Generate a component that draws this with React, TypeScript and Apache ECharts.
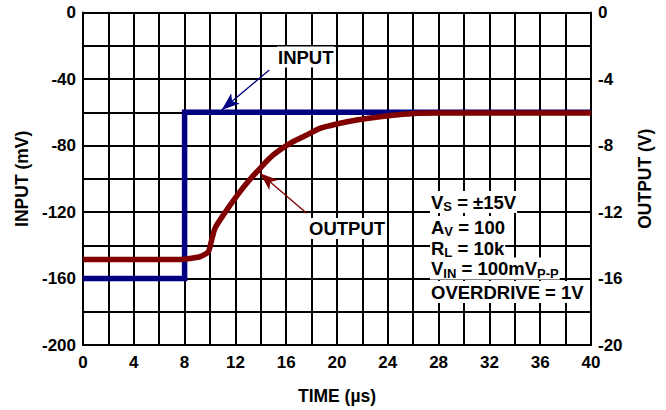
import React, { useEffect, useRef } from "react";
import * as echarts from "echarts";

const timeTicks = [0, 4, 8, 12, 16, 20, 24, 28, 32, 36, 40];
const inputMv: [number, number][] = [
  [0, -160],
  [8, -160],
  [8, -60],
  [40, -60],
];
const outputV: [number, number][] = [
  [0, -14.85],
  [7.6, -14.85],
  [9.2, -14.69],
  [9.87, -14.39],
  [10.13, -13.68],
  [10.39, -12.98],
  [11.05, -12.18],
  [11.97, -11.18],
  [12.89, -10.27],
  [13.94, -9.37],
  [14.98, -8.57],
  [16.3, -7.87],
  [17.35, -7.47],
  [18.66, -6.97],
  [19.98, -6.71],
  [21.55, -6.47],
  [23.39, -6.27],
  [26.28, -6.06],
  [28, -6.05],
  [40, -6.05],
];
const inputArrow: [number, number][] = [
  [14.67, -34.6],
  [10.92, -58.6],
];
const outputArrow: [number, number][] = [
  [17.61, -12.08],
  [13.94, -9.67],
];
const noteLines = [
  ["V", "S", " = ±15V"],
  ["A", "V", " = 100"],
  ["R", "L", " = 10k"],
  ["V", "IN", " = 100mV", "P-P"],
  ["OVERDRIVE = 1V"],
];

const FONT = "'Liberation Sans', Arial, Helvetica, sans-serif";
const NAVY = "#000080";
const MAROON = "#800000";

export default function App() {
  const ref = useRef<HTMLDivElement>(null);
  useEffect(() => {
    if (!ref.current) return;
    const chart = echarts.init(ref.current, null, { renderer: "svg" });
    const labelStyle = {
      fontFamily: FONT,
      fontWeight: "bold" as const,
      fontSize: 17,
      color: "#000",
    };
    const nameStyle = {
      fontFamily: FONT,
      fontWeight: "bold" as const,
      fontSize: 17.5,
      color: "#000",
    };
    const noteYs = [202, 227, 248, 268.5, 292];
    const toRich = (parts: string[]) =>
      parts.map((p, i) => (i % 2 === 1 ? `{s|${p}}` : `{m|${p}}`)).join("");
    const graphics: any[] = noteLines.map((parts, i) => ({
      type: "text",
      x: 430,
      y: noteYs[i],
      z: 100,
      style: {
        text: toRich(parts),
        verticalAlign: "middle",
        align: "left",
        backgroundColor: "#fff",
        padding: [0, 1],
        rich: {
          m: {
            fontFamily: FONT,
            fontWeight: "bold",
            fontSize: 18.5,
            lineHeight: 22,
            fill: "#000",
            verticalAlign: "middle",
          },
          s: {
            fontFamily: FONT,
            fontWeight: "bold",
            fontSize: 13,
            lineHeight: 12,
            fill: "#000",
            verticalAlign: "bottom",
          },
        },
      },
    }));
    graphics.push(
      {
        type: "text",
        x: 277,
        y: 57,
        z: 100,
        style: {
          text: "INPUT",
          fontFamily: FONT,
          fontWeight: "bold",
          fontSize: 18.5,
          fill: "#000",
          verticalAlign: "middle",
          backgroundColor: "#fff",
          padding: [1, 1],
        },
      },
      {
        type: "text",
        x: 308,
        y: 228.5,
        z: 100,
        style: {
          text: "OUTPUT",
          fontFamily: FONT,
          fontWeight: "bold",
          fontSize: 18.5,
          fill: "#000",
          verticalAlign: "middle",
          backgroundColor: "#fff",
          padding: [1, 1],
        },
      }
    );

    chart.setOption({
      animation: false,
      backgroundColor: "#fff",
      grid: { left: 83, right: 75, top: 12.5, bottom: 65 },
      xAxis: {
        type: "value",
        min: 0,
        max: 40,
        interval: 4,
        name: "TIME (µs)",
        nameLocation: "middle",
        nameGap: 42,
        nameTextStyle: nameStyle,
        axisLine: { show: true, onZero: false, lineStyle: { color: "#000", width: 2 } },
        axisTick: { show: false },
        axisLabel: {
          ...labelStyle,
          margin: 9,
          formatter: (v: number) => (timeTicks.includes(v) ? String(v) : ""),
        },
        splitLine: { show: true, lineStyle: { color: "#000", width: 2 } },
        minorTick: { show: false, splitNumber: 2 },
        minorSplitLine: { show: true, lineStyle: { color: "#000", width: 2 } },
      },
      yAxis: [
        {
          type: "value",
          min: -200,
          max: 0,
          interval: 40,
          position: "left",
          name: "INPUT (mV)",
          nameLocation: "middle",
          nameGap: 50,
          nameTextStyle: nameStyle,
          axisLine: { show: true, onZero: false, lineStyle: { color: "#000", width: 2 } },
          axisTick: { show: false },
          axisLabel: { ...labelStyle, margin: 7 },
          splitLine: { show: true, lineStyle: { color: "#000", width: 2 } },
          minorTick: { show: false, splitNumber: 2 },
          minorSplitLine: { show: true, lineStyle: { color: "#000", width: 2 } },
        },
        {
          type: "value",
          min: -20,
          max: 0,
          interval: 4,
          position: "right",
          name: "OUTPUT (V)",
          nameLocation: "middle",
          nameGap: 45,
          nameTextStyle: nameStyle,
          axisLine: { show: true, onZero: false, lineStyle: { color: "#000", width: 2 } },
          axisTick: { show: false },
          axisLabel: { ...labelStyle, margin: 7 },
          splitLine: { show: false },
        },
      ],
      series: [
        {
          name: "INPUT",
          type: "line",
          yAxisIndex: 0,
          data: inputMv,
          symbol: "none",
          clip: false,
          lineStyle: { color: NAVY, width: 5.5, join: "miter", cap: "butt" },
          markLine: {
            silent: true,
            symbol: ["none", "arrow"],
            symbolSize: [10, 18],
            label: { show: false },
            lineStyle: { color: NAVY, width: 1.3, type: "solid" },
            data: [[{ coord: inputArrow[0] }, { coord: inputArrow[1] }]],
          },
        },
        {
          name: "OUTPUT",
          type: "line",
          yAxisIndex: 1,
          data: outputV,
          symbol: "none",
          smooth: 0.2,
          clip: false,
          lineStyle: { color: MAROON, width: 5.5, join: "round" },
          markLine: {
            silent: true,
            symbol: ["none", "arrow"],
            symbolSize: [10, 18],
            label: { show: false },
            lineStyle: { color: MAROON, width: 1.3, type: "solid" },
            data: [[{ coord: outputArrow[0] }, { coord: outputArrow[1] }]],
          },
        },
      ],
      graphic: graphics,
    });
    return () => chart.dispose();
  }, []);
  return (
    <div
      ref={ref}
      style={{ position: "fixed", left: 0, top: 0, width: 666, height: 410, background: "#fff" }}
    />
  );
}
